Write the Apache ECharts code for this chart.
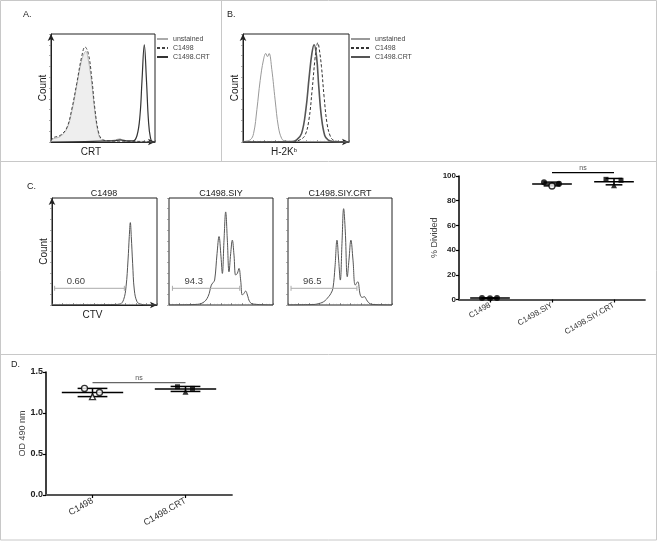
<!DOCTYPE html>
<html>
<head>
<meta charset="utf-8">
<script src="https://cdn.jsdelivr.net/npm/echarts@6/dist/echarts.min.js"></script>
<style>
  html, body { margin: 0; padding: 0; background: #fff; }
  #chart { width: 658px; height: 541px; }
</style>
</head>
<body>
<div id="chart"></div>
<script>
// histograms: [channel 0-1000, % of max]
const crtUnstained = [[0,1],[22,3],[87,5],[151,12],[199,28],[247,52],[290,74],[318,82],[335,84],[359,76],[391,55],[423,27],[455,8],[487,2],[540,1],[620,2],[663,3],[700,1],[780,0.5],[1000,0]]
const crtC1498 = [[0,1],[22,4],[87,6],[151,13],[199,30],[247,54],[295,79],[327,88],[359,82],[391,60],[423,30],[455,10],[487,3],[560,1],[1000,0.5]]
const crtC1498CRT = [[0,0],[600,1],[663,2],[740,1],[788,1],[827,6],[856,25],[875,57],[897,90],[918,57],[937,20],[956,4],[980,0],[1000,0]]

const h2kUnstained = [[0,0.5],[68,2],[100,8],[131,30],[162,57],[193,76],[215,82],[231,79],[246,82],[272,67],[303,39],[334,14],[366,3],[396,1],[450,0.5],[1000,0]]
const h2kC1498 = [[0,0],[480,0.5],[537,2],[584,6],[621,20],[652,48],[678,76],[694,88],[706,92],[718,87],[740,70],[765,42],[793,17],[825,5],[856,1.5],[900,0.5],[1000,0]]
const h2kC1498CRT = [[0,0],[470,0.5],[506,2],[553,8],[593,30],[624,60],[650,82],[671,90],[694,79],[715,51],[740,23],[771,6],[802,2],[850,0.5],[1000,0]]

const ctvTitles = ['C1498', 'C1498.SIY', 'C1498.SIY.CRT']
const ctvC1498 = [[0,0],[600,0.5],[650,1],[682,5],[705,17],[724,42],[736,64],[746,77],[755,64],[768,39],[784,14],[810,3],[841,1],[900,0],[1000,0]]
const ctvSIY = [[0,0],[250,0.5],[327,2.2],[375,7.8],[407,18.6],[423,20.8],[439,23.3],[462,48],[481,64],[500,45],[513,29.5],[529,60.6],[545,87],[561,60.6],[577,31],[593,48],[609,60.6],[625,46.6],[641,28],[657,29.5],[673,34.2],[689,23.3],[705,9.3],[721,10.9],[737,13],[754,9.3],[776,3.1],[808,0.9],[1000,0]]
const ctvSIYCRT = [[0,0],[250,0.5],[279,0.9],[343,3.1],[391,7.8],[413,10.9],[432,15.5],[452,35.7],[471,60.6],[487,41.9],[503,23.3],[519,57.5],[535,90],[551,68.3],[570,26.4],[586,41.9],[605,60.6],[625,41.9],[647,18.6],[670,21.7],[695,9.3],[714,7.1],[734,7.8],[753,5.3],[775,2.2],[807,0.6],[1000,0]]
const ctvSeries = [ctvC1498, ctvSIY, ctvSIYCRT]
const gateStart = [25, 33, 29]
const gateEnd = [689, 680, 663]
const gateY = [15.6, 15.6, 15.6]
const gateLabel = ['0.60', '94.3', '96.5']

// % divided replicates
const cGroups = ['C1498', 'C1498.SIY', 'C1498.SIY.CRT']
const cDivided = [[1.2, 1.0, 1.2], [94.9, 91.9, 93.8], [97.3, 92.5, 96.5]]
const cSymbols = [['circle','circle','circle'], ['circle','circle','circle'], ['rect','triangle','rect']]
const cOpen = [[0,0,0], [0,1,0], [0,0,0]]
const cNs = [[1, 2, 102.7]]

// OD 490 replicates
const dGroups = ['C1498', 'C1498.CRT']
const dOD = [[1.30, 1.20, 1.25], [1.32, 1.26, 1.30]]
const dSymbols = [['circle','triangle','circle'], ['rect','triangle','rect']]
const dOpen = [[1,1,1], [0,0,0]]
const dNs = [[0, 1, 1.37]]

const jitter = [-8, 0, 7]
const FONT = 'Liberation Sans, Arial, sans-serif'
const chart = echarts.init(document.getElementById('chart'))

const stats = arr => {
  const m = arr.reduce((a, b) => a + b, 0) / arr.length
  const sd = Math.sqrt(arr.reduce((a, b) => a + (b - m) * (b - m), 0) / (arr.length - 1))
  return [m, sd]
}

const hist = (name, data, idx, color, width, type, area) => ({
  name, type: 'line', data, xAxisIndex: idx, yAxisIndex: idx, smooth: 0.4, symbol: 'none',
  lineStyle: { color, width, type }, itemStyle: { color },
  areaStyle: area ? { color: area, opacity: 1 } : undefined, silent: true, z: 3,
})

const histX = (idx, arrow, name, pad) => ({
  gridIndex: idx, type: 'value', min: 0, max: 1000, interval: 100, offset: arrow ? 3 : 0,
  axisLine: arrow ? { show: true, symbol: ['none', 'arrow'], symbolSize: [5, 7], lineStyle: { color: '#222', width: 1 } } : { show: false },
  axisTick: { show: true, inside: true, length: 2, lineStyle: { color: '#555', width: 0.6 } },
  minorTick: { show: true, splitNumber: 3, length: 1.2, lineStyle: { color: '#888', width: 0.5 } },
  axisLabel: { show: false }, splitLine: { show: false },
  name: name || '', nameLocation: 'middle', nameGap: 2,
  nameTextStyle: { fontFamily: FONT, fontSize: 10, color: '#222', padding: [0, pad || 0, 0, 0],
    rich: { sup: { fontSize: 6, verticalAlign: 'top', padding: [0, 0, 5, 0], fontFamily: FONT, color: '#222' } } },
})

const histY = (idx, arrow, name) => ({
  gridIndex: idx, type: 'value', min: 0, max: 100, interval: 10, offset: arrow ? 4 : 0,
  axisLine: arrow ? { show: true, symbol: ['none', 'arrow'], symbolSize: [5, 7], lineStyle: { color: '#222', width: 1 } } : { show: false },
  axisTick: { show: true, length: 2, lineStyle: { color: '#777', width: 0.6 } },
  axisLabel: { show: false }, splitLine: { show: false },
  name: name || '', nameLocation: 'middle', nameGap: -1,
  nameTextStyle: { fontFamily: FONT, fontSize: 10, color: '#222' },
})

const gateSeries = i => ({
  type: 'custom', xAxisIndex: 2 + i, yAxisIndex: 2 + i, silent: true, z: 4,
  data: [[gateStart[i], gateEnd[i], gateY[i]]], encode: { x: [0, 1], y: 2 },
  renderItem: (p, api) => {
    const a = api.coord([api.value(0), api.value(2)])
    const b = api.coord([api.value(1), api.value(2)])
    const st = { stroke: '#aaa', lineWidth: 1 }
    return { type: 'group', children: [
      { type: 'line', shape: { x1: a[0], y1: a[1], x2: b[0], y2: b[1] }, style: st },
      { type: 'line', shape: { x1: a[0], y1: a[1] - 2.5, x2: a[0], y2: a[1] + 2.5 }, style: st },
      { type: 'line', shape: { x1: b[0], y1: b[1] - 2.5, x2: b[0], y2: b[1] + 2.5 }, style: st },
      { type: 'text', x: a[0] + 12, y: a[1] - 2, style: { text: gateLabel[i], fill: '#444', font: '9.5px ' + FONT, textVerticalAlign: 'bottom' } },
    ] }
  },
})

const points = (vals, syms, open, idx, size) => {
  const out = []
  vals.forEach((g, gi) => g.forEach((v, r) => out.push({
    value: [gi, v], symbol: syms[gi][r], symbolOffset: [jitter[r], 0],
    symbolSize: syms[gi][r] === 'rect' ? size - 1 : size,
    itemStyle: open[gi][r] ? { color: '#fff', borderColor: '#000', borderWidth: 1.3 } : { color: '#000' },
  })))
  return { type: 'scatter', xAxisIndex: idx, yAxisIndex: idx, data: out, z: 5, silent: true }
}

const meanSd = (vals, idx, halfW, capW) => ({
  type: 'custom', xAxisIndex: idx, yAxisIndex: idx, silent: true, z: 4,
  data: vals.map((g, gi) => [gi, ...stats(g)]),
  renderItem: (p, api) => {
    const x = api.value(0), m = api.value(1), sd = api.value(2)
    const c = api.coord([x, m])
    const top = api.coord([x, m + sd])[1], bot = api.coord([x, m - sd])[1]
    const band = api.size([1, 0])[0]
    const hw = band * halfW, cw = band * capW
    const st = { stroke: '#000', lineWidth: 1.5 }
    return { type: 'group', children: [
      { type: 'line', shape: { x1: c[0] - hw, y1: c[1], x2: c[0] + hw, y2: c[1] }, style: st },
      { type: 'line', shape: { x1: c[0], y1: top, x2: c[0], y2: bot }, style: st },
      { type: 'line', shape: { x1: c[0] - cw, y1: top, x2: c[0] + cw, y2: top }, style: st },
      { type: 'line', shape: { x1: c[0] - cw, y1: bot, x2: c[0] + cw, y2: bot }, style: st },
    ] }
  },
})

const nsBar = (data, idx, color) => ({
  type: 'custom', xAxisIndex: idx, yAxisIndex: idx, silent: true, z: 4, data, encode: { x: [0, 1], y: 2 },
  renderItem: (p, api) => {
    const a = api.coord([api.value(0), api.value(2)])
    const b = api.coord([api.value(1), api.value(2)])
    return { type: 'group', children: [
      { type: 'line', shape: { x1: a[0], y1: a[1], x2: b[0], y2: b[1] }, style: { stroke: color, lineWidth: 1.3 } },
      { type: 'text', x: (a[0] + b[0]) / 2, y: a[1] - 1, style: { text: 'ns', fill: '#555', font: '7px ' + FONT, textAlign: 'center', textVerticalAlign: 'bottom' } },
    ] }
  },
})

const catX = (idx, data, size) => ({
  gridIndex: idx, type: 'category', data,
  axisLine: { show: true, lineStyle: { color: '#555', width: 1.8 } },
  axisTick: { show: true, alignWithLabel: true, length: 3, lineStyle: { color: '#000', width: 1.2 } },
  axisLabel: { rotate: 30, fontFamily: FONT, fontSize: size, color: '#333', margin: 5 },
  splitLine: { show: false },
})

const dotY = (idx, max, interval, digits, name, gap, size) => ({
  gridIndex: idx, type: 'value', min: 0, max, interval,
  axisLine: { show: true, lineStyle: { color: '#000', width: 1.5 } },
  axisTick: { show: true, length: 3, lineStyle: { color: '#000', width: 1.2 } },
  axisLabel: { fontFamily: FONT, fontSize: size, fontWeight: 'bold', color: '#222', margin: 3,
    formatter: v => digits ? v.toFixed(digits) : String(v) },
  splitLine: { show: false },
  name, nameLocation: 'middle', nameGap: gap,
  nameTextStyle: { fontFamily: FONT, fontSize: 9, color: '#444' },
})

const txt = (text, x, y, size, align) => ({
  type: 'text', x, y, silent: true,
  style: { text, fill: '#222', font: size + 'px ' + FONT, textAlign: align || 'left', textVerticalAlign: 'middle' },
})
const hline = (y, x1, x2) => ({ type: 'line', silent: true, shape: { x1, y1: y, x2, y2: y }, style: { stroke: '#c8c8c8', lineWidth: 1 } })
const vline = (x, y1, y2) => ({ type: 'line', silent: true, shape: { x1: x, y1, x2: x, y2 }, style: { stroke: '#c8c8c8', lineWidth: 1 } })

const legendBase = { orient: 'vertical', padding: 0, itemHeight: 7, itemGap: 2, selectedMode: false,
  itemStyle: { opacity: 0 },
  textStyle: { fontFamily: FONT, fontSize: 7, color: '#444' } }

chart.setOption({
  animation: false,
  textStyle: { fontFamily: FONT },
  grid: [
    { left: 51, top: 34, width: 104, height: 108, show: true, borderColor: '#222', borderWidth: 1 },
    { left: 243, top: 34, width: 106, height: 108, show: true, borderColor: '#222', borderWidth: 1 },
    { left: 52, top: 198, width: 105, height: 107, show: true, borderColor: '#222', borderWidth: 1 },
    { left: 169, top: 198, width: 104, height: 107, show: true, borderColor: '#222', borderWidth: 1 },
    { left: 288, top: 198, width: 104, height: 107, show: true, borderColor: '#222', borderWidth: 1 },
    { left: 459, top: 176, width: 186, height: 123.5 },
    { left: 46, top: 372, width: 186, height: 123 },
  ],
  legend: [
    { ...legendBase, left: 156, top: 35.5, itemWidth: 11, data: ['unstained', 'C1498', 'C1498.CRT'] },
    { ...legendBase, left: 350, top: 35.5, itemWidth: 19, data: ['unstained ', 'C1498 ', 'C1498.CRT '] },
  ],
  xAxis: [
    histX(0, true, 'CRT', 24),
    histX(1, true, 'H-2K{sup|b}', 24),
    histX(2, true, 'CTV', 24),
    histX(3, false),
    histX(4, false),
    catX(5, cGroups, 8),
    catX(6, dGroups, 9),
  ],
  yAxis: [
    histY(0, true, 'Count'),
    histY(1, true, 'Count'),
    histY(2, true, 'Count'),
    histY(3, false),
    histY(4, false),
    dotY(5, 100, 20, 0, '% Divided', 14, 8),
    dotY(6, 1.5, 0.5, 1, 'OD 490 nm', 17, 9),
  ],
  series: [
    hist('unstained', crtUnstained, 0, '#aaa', 0.8, 'solid', '#eeeeee'),
    hist('C1498', crtC1498, 0, '#444', 1, [3, 2]),
    hist('C1498.CRT', crtC1498CRT, 0, '#333', 1.2, 'solid'),
    hist('unstained ', h2kUnstained, 1, '#999', 1, 'solid'),
    hist('C1498 ', h2kC1498, 1, '#333', 1, [3, 2]),
    hist('C1498.CRT ', h2kC1498CRT, 1, '#555', 1.6, 'solid'),
    ...ctvSeries.map((d, i) => hist(ctvTitles[i], d, 2 + i, '#555', 1, 'solid')),
    ...ctvSeries.map((d, i) => gateSeries(i)),
    meanSd(cDivided, 5, 0.32, 0.135),
    points(cDivided, cSymbols, cOpen, 5, 6),
    nsBar(cNs, 5, '#000'),
    meanSd(dOD, 6, 0.33, 0.16),
    points(dOD, dSymbols, dOpen, 6, 6),
    nsBar(dNs, 6, '#666'),
  ],
  graphic: [
    { type: 'rect', silent: true, shape: { x: 0.5, y: 0.5, width: 656, height: 539.5 }, style: { fill: 'none', stroke: '#c8c8c8', lineWidth: 1 } },
    hline(161.5, 0, 657),
    hline(354.5, 0, 657),
    vline(221.5, 0, 161),
    txt('A.', 23, 15, 9),
    txt('B.', 227, 15, 9),
    txt('C.', 27, 187, 9),
    txt('D.', 11, 365, 9),
    ...ctvTitles.map((t, i) => txt(t, [104, 221, 340][i], 194, 9, 'center')),
  ],
})
</script>
</body>
</html>
